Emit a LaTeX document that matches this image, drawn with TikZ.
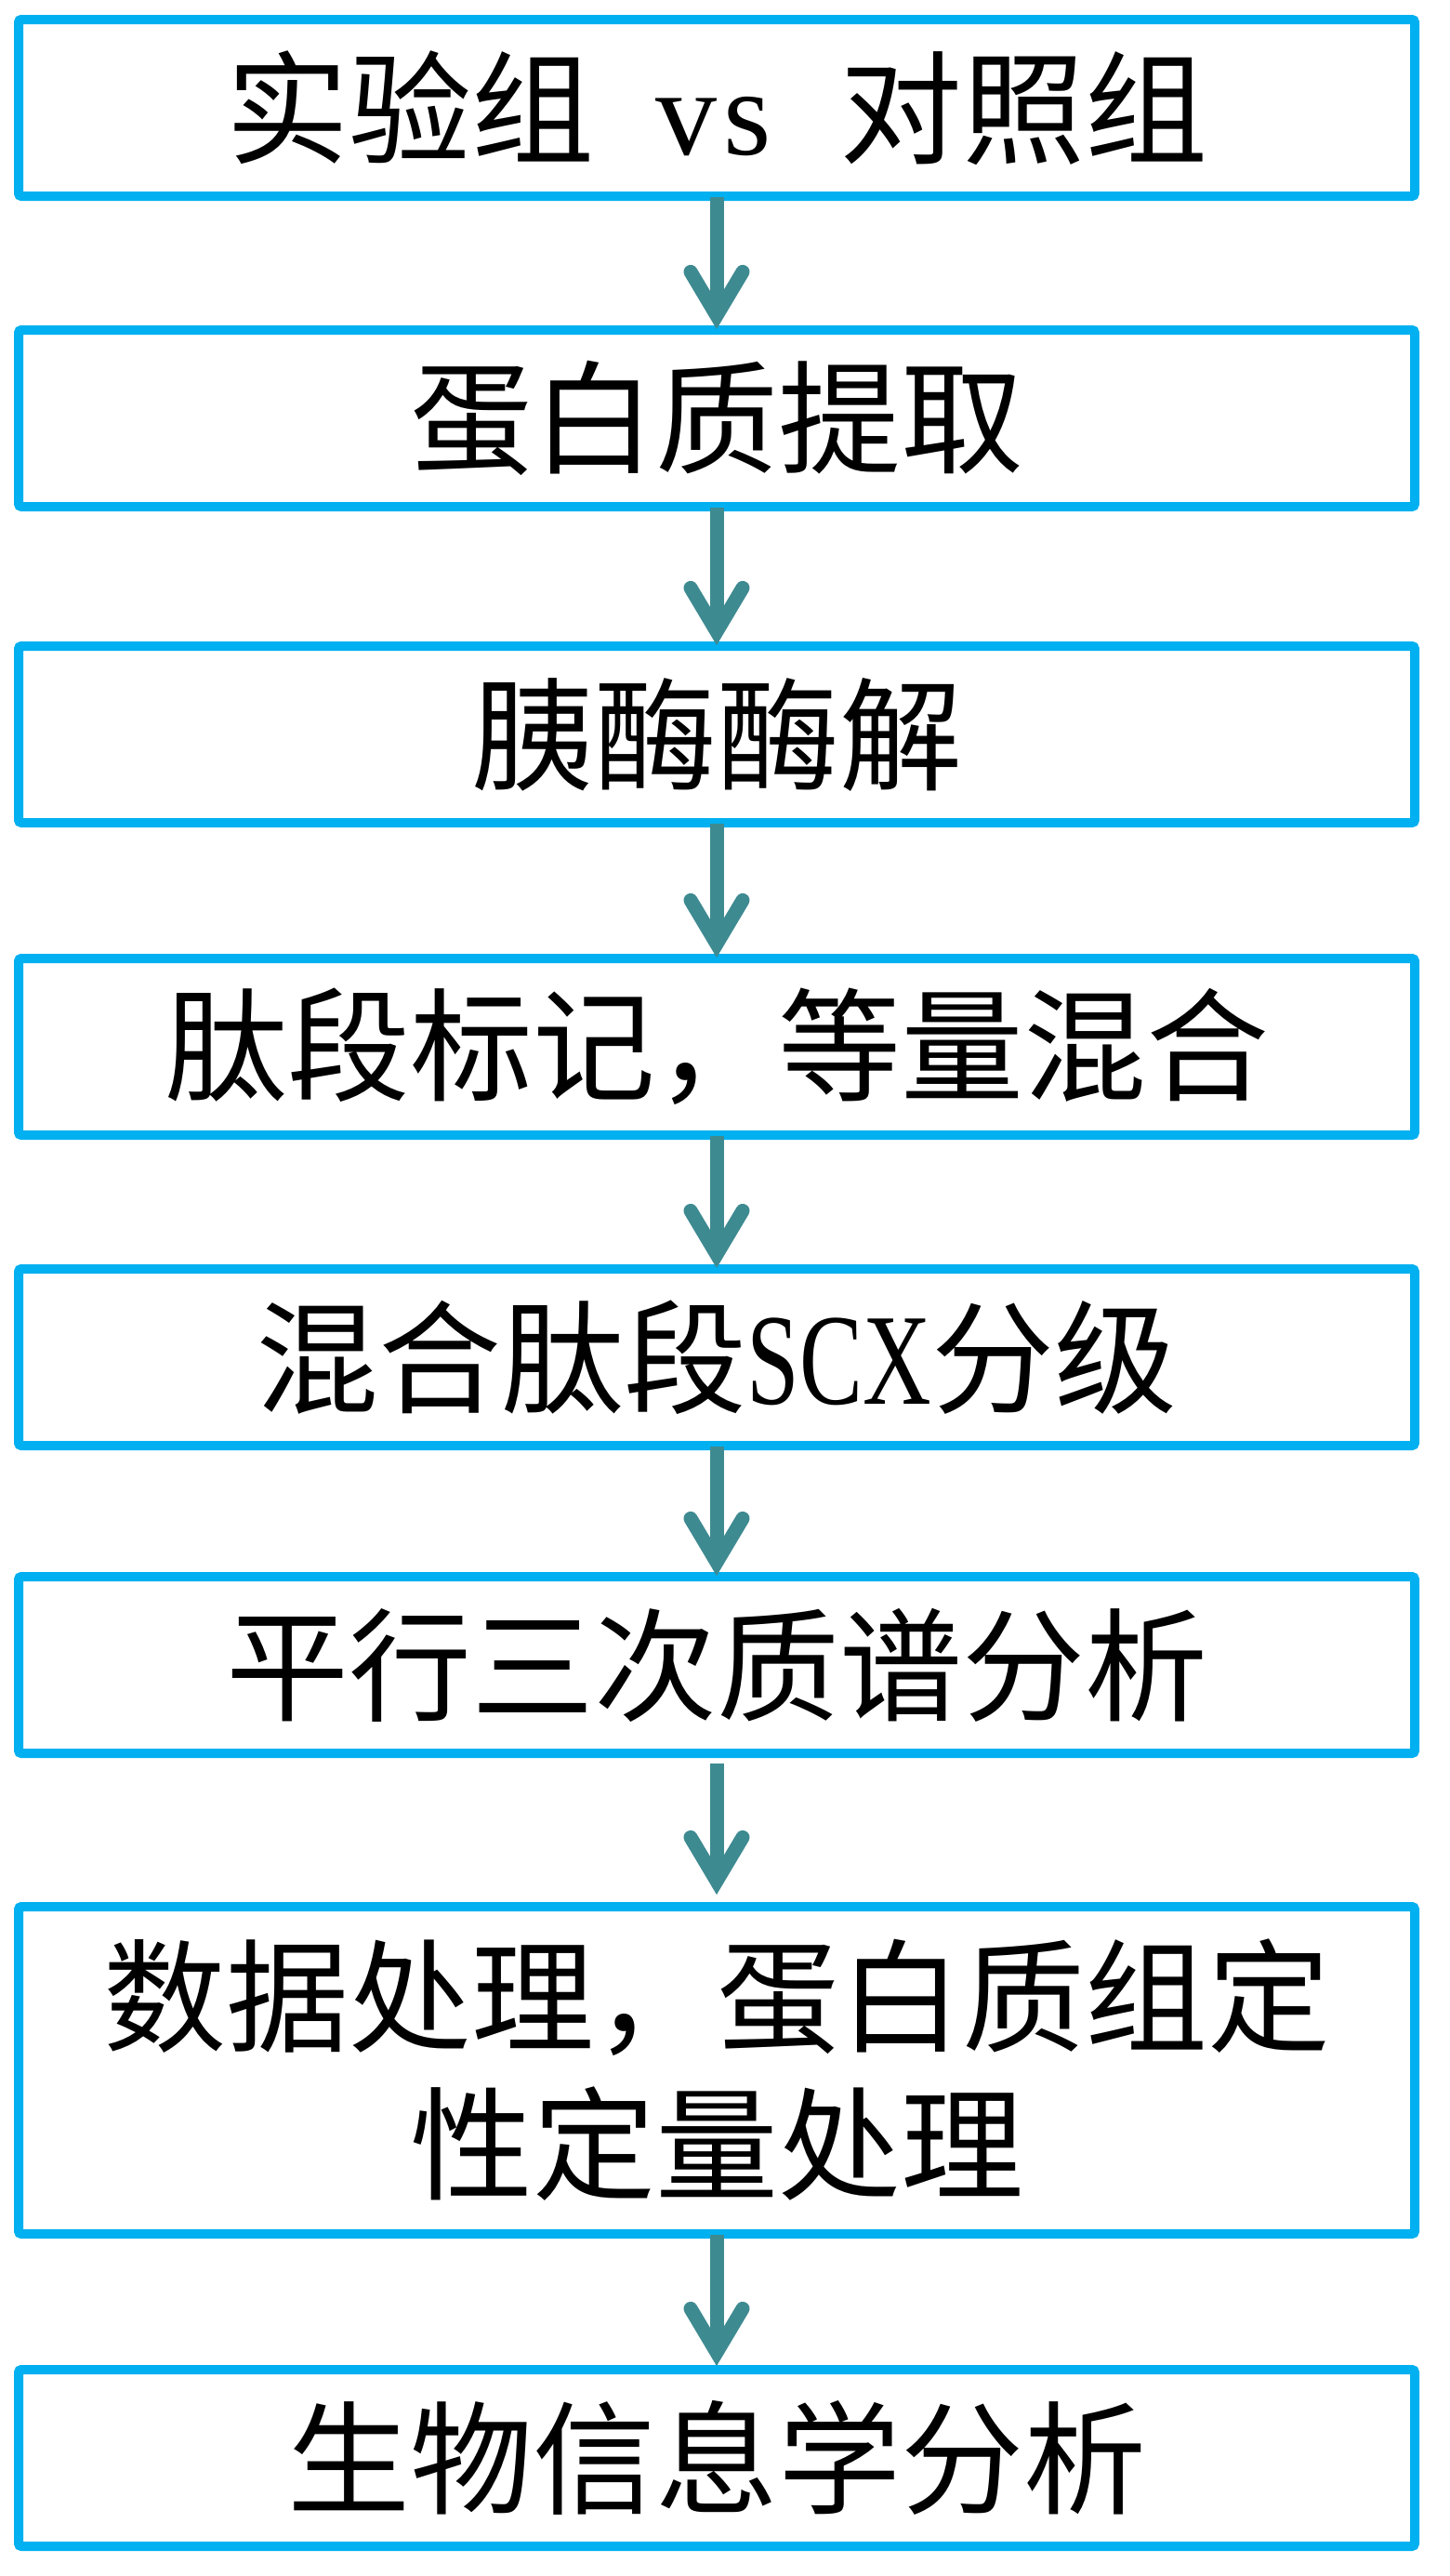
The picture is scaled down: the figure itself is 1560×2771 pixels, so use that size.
\documentclass[tikz,border=0pt]{standalone}
\usepackage{fontspec}
\usepackage{graphicx}
\newfontfamily\cjk{Noto Sans CJK SC}
\newfontfamily\latinf{Liberation Serif}
\definecolor{boxblue}{RGB}{0,176,240}
\definecolor{arrowteal}{RGB}{62,138,145}
\newcommand\halfw[1]{\makebox[66pt][c]{\latinf #1}}
% #1 from node, #2 to node, #3 yshift of start from #1.south, #4 yshift of tip from #2.north
\newcommand\flowarrow[4]{%
  \coordinate (#1s) at ([yshift=#3]#1.south);
  \coordinate (#1t) at ([yshift=#4]#2.north);
  \draw[shaft] (#1s) -- ([yshift=20pt]#1t);
  \draw[head] ([shift={(-28pt,61.6pt)}]#1t) -- ([yshift=14.6pt]#1t) -- ([shift={(28pt,61.6pt)}]#1t);
}
\begin{document}
\begin{tikzpicture}[x=1pt,y=-1pt,
  stepbox/.style={draw=boxblue, line width=10pt, rounded corners=3pt,
    minimum width=1502pt, minimum height=190pt, inner sep=0pt,
    font=\cjk\fontsize{132pt}{159pt}\selectfont, align=center, text=black},
  shaft/.style={draw=arrowteal, line width=15pt},
  head/.style={draw=arrowteal, line width=15pt, line cap=round, line join=miter}]
\useasboundingbox[fill=white] (0,0) rectangle (1560,2771);
\node[stepbox] (b1) at (771,116) {实验组\hspace{66pt}\halfw{v}\halfw{s}\hspace{66pt}对照组};
\node[stepbox] (b2) at (771,450) {蛋白质提取};
\node[stepbox] (b3) at (771,790) {胰酶酶解};
\node[stepbox] (b4) at (771,1126) {肽段标记，等量混合};
\node[stepbox] (b5) at (771,1460) {混合肽段\scalebox{0.728}[1]{\latinf\fontsize{140pt}{159pt}\selectfont SCX}分级};
\node[stepbox] (b6) at (771,1791) {平行三次质谱分析};
\node[stepbox, minimum height=352pt] (b7) at (771,2227) {数据处理，蛋白质组定\\性定量处理};
\node[stepbox] (b8) at (771,2644) {生物信息学分析};
\flowarrow{b1}{b2}{4pt}{-4pt}
\flowarrow{b2}{b3}{4pt}{-4pt}
\flowarrow{b3}{b4}{4pt}{-4pt}
\flowarrow{b4}{b5}{4pt}{-4pt}
\flowarrow{b5}{b6}{4pt}{-4pt}
\flowarrow{b6}{b7}{-6pt}{8pt}
\flowarrow{b7}{b8}{4pt}{-1pt}
\end{tikzpicture}
\end{document}
